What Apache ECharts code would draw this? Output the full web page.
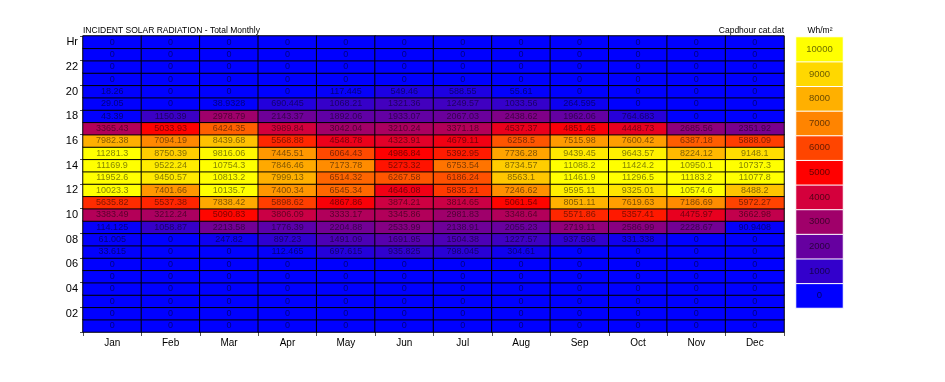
<!DOCTYPE html>
<html>
<head>
<meta charset="utf-8">
<script src="https://cdn.jsdelivr.net/npm/echarts@6/dist/echarts.min.js"></script>
<style>html,body{margin:0;padding:0;background:#fff;}#c{width:945px;height:382px;}</style>
</head>
<body>
<div id="c"></div>
<script>
// Months (x categories)
const months = ['Jan','Feb','Mar','Apr','May','Jun','Jul','Aug','Sep','Oct','Nov','Dec'];
// Hours 1..24 (y categories, bottom to top)
const hours = [1,2,3,4,5,6,7,8,9,10,11,12,13,14,15,16,17,18,19,20,21,22,23,24];
// Tick labels per hour
const hourLabels = ['','02','','04','','06','','08','','10','','12','','14','','16','','18','','20','','22','','Hr'];
// Values per month, hour 1 .. hour 24 (Wh/m2)
const jan = [0,0,0,0,0,0,33.615,61.005,114.125,3383.49,5635.82,10023.3,11952.6,11169.9,11281.3,7982.38,3365.43,43.39,29.05,18.26,0,0,0,0];
const feb = [0,0,0,0,0,0,0,0,1058.87,3212.24,5537.38,7401.66,9450.57,9522.24,8750.39,7094.19,5033.93,1150.39,0,0,0,0,0,0];
const mar = [0,0,0,0,0,0,0,247.82,2213.58,5090.83,7838.42,10135.7,10813.2,10754.3,9816.06,8439.68,6424.35,2978.79,38.9328,0,0,0,0,0];
const apr = [0,0,0,0,0,0,112.465,897.23,1776.39,3806.09,5898.62,7400.34,7999.13,7846.46,7445.51,5568.88,3989.84,2143.37,690.445,0,0,0,0,0];
const may = [0,0,0,0,0,0,697.615,1491.09,2204.88,3333.17,4867.86,6545.34,6514.32,7173.78,6064.43,4548.78,3042.04,1892.06,1068.21,117.445,0,0,0,0];
const jun = [0,0,0,0,0,0,935.825,1691.95,2533.99,3345.86,3874.21,4646.08,6267.58,5273.32,4986.84,4323.91,3210.24,1933.07,1321.36,549.46,0,0,0,0];
const jul = [0,0,0,0,0,0,798.045,1504.38,2138.91,2981.83,3814.65,5835.21,6186.24,6753.54,5392.95,4679.11,3371.18,2067.03,1249.57,588.55,0,0,0,0];
const aug = [0,0,0,0,0,0,304.61,1227.57,2055.23,3348.64,5061.54,7246.62,8563.1,8734.57,7736.28,6258.5,4537.37,2438.62,1033.56,55.61,0,0,0,0];
const sep = [0,0,0,0,0,0,0,937.596,2719.11,5571.86,8051.11,9595.11,11461.9,11088.2,9439.45,7515.98,4851.45,1962.06,264.595,0,0,0,0,0];
const oct = [0,0,0,0,0,0,0,331.338,2586.99,5357.41,7619.63,9325.01,11296.5,11424.2,9643.57,7600.42,4448.73,764.683,0,0,0,0,0,0];
const nov = [0,0,0,0,0,0,0,0,2228.67,4475.97,7186.69,10574.6,11183.2,10950.1,8224.12,6387.18,2685.56,0,0,0,0,0,0,0];
const dec = [0,0,0,0,0,0,0,0,90.9408,3662.98,5972.27,8488.2,11077.8,10737.3,9148.1,5888.09,2351.92,0,0,0,0,0,0,0];
// Legend scale values
const scaleValues = [0,1000,2000,3000,4000,5000,6000,7000,8000,9000,10000];
const scaleColors = ['#0000FF','#3300CC','#6600A0','#A0006A','#D4003C','#FF0000','#FF4500','#FF8400','#FFB000','#FFD800','#FFFF00'];

const monthly = [jan,feb,mar,apr,may,jun,jul,aug,sep,oct,nov,dec];
const heatData = [];
monthly.forEach((arr, mi) => arr.forEach((v, hi) => heatData.push([mi, hi, v])));
const legendData = scaleValues.map((v, i) => [0, i, v]);

const FONT = 'Liberation Sans, Arial, sans-serif';
const chart = echarts.init(document.getElementById('c'), null, {renderer: 'canvas'});
chart.setOption({
  animation: false,
  backgroundColor: '#fff',
  title: [
    {text: 'INCIDENT SOLAR RADIATION - Total Monthly', left: 83, top: 26, padding: 0,
     textStyle: {fontSize: 8.5, fontWeight: 'normal', color: '#000', fontFamily: FONT}},
    {text: 'Capdhour cat.dat', right: 161, top: 26, padding: 0,
     textStyle: {fontSize: 8.5, fontWeight: 'normal', color: '#000', fontFamily: FONT}},
    {text: 'Wh/m²', left: 820, textAlign: 'center', top: 26, padding: 0,
     textStyle: {fontSize: 8.5, fontWeight: 'normal', color: '#000', fontFamily: FONT}}
  ],
  grid: [
    {left: 83, right: 161, top: 36, bottom: 50, containLabel: false},
    {left: 796, width: 47, top: 37, height: 271, containLabel: false}
  ],
  xAxis: [
    {type: 'category', data: months, gridIndex: 0, position: 'bottom',
     axisLine: {show: false},
     axisTick: {show: true, length: 4, lineStyle: {color: '#555'}},
     axisLabel: {fontSize: 10, color: '#000', fontFamily: FONT, margin: 6},
     splitLine: {show: false}},
    {type: 'category', data: ['s'], gridIndex: 1, show: false}
  ],
  yAxis: [
    {type: 'category', data: hours, gridIndex: 0,
     axisLine: {show: false},
     axisTick: {show: true, length: 3, interval: (i) => i % 2 === 0, lineStyle: {color: '#555'}},
     axisLabel: {fontSize: 11, color: '#000', fontFamily: FONT, margin: 5, interval: 0,
                 formatter: (v, i) => hourLabels[i]},
     splitLine: {show: false}},
    {type: 'category', data: scaleValues, gridIndex: 1, show: false}
  ],
  visualMap: {
    type: 'continuous', show: false, min: 0, max: 10000, seriesIndex: [0, 1],
    inRange: {color: scaleColors}
  },
  series: [
    {type: 'heatmap', xAxisIndex: 0, yAxisIndex: 0, data: heatData,
     itemStyle: {borderColor: '#000', borderWidth: 1},
     label: {show: true, fontSize: 9, fontFamily: FONT, color: 'rgba(0,0,0,0.5)',
             formatter: (p) => String(p.value[2])},
     emphasis: {disabled: true}},
    {type: 'heatmap', xAxisIndex: 1, yAxisIndex: 1, data: legendData,
     itemStyle: {borderColor: '#fff', borderWidth: 1},
     label: {show: true, fontSize: 9.5, fontFamily: FONT, color: 'rgba(0,0,0,0.6)',
             formatter: (p) => String(p.value[2])},
     emphasis: {disabled: true}}
  ]
});
</script>
</body>
</html>
